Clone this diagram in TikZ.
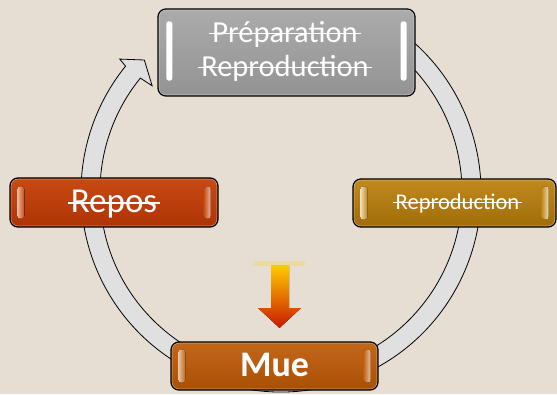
\documentclass[tikz,border=0pt]{standalone}
\usepackage{fontspec}
\setmainfont{Carlito}
\definecolor{bgc}{HTML}{E6DED2}
\definecolor{ringc}{HTML}{E0E0E0}
\definecolor{grayA}{HTML}{ABABAB}
\definecolor{grayB}{HTML}{939393}
\definecolor{goldA}{HTML}{C08A1E}
\definecolor{goldB}{HTML}{A06C08}
\definecolor{redA}{HTML}{C84A14}
\definecolor{redB}{HTML}{AE3404}
\definecolor{mueA}{HTML}{C2661A}
\definecolor{mueB}{HTML}{AA5004}
\definecolor{arrY}{HTML}{FFCA00}
\definecolor{arrR}{HTML}{C81800}
\definecolor{barc}{HTML}{EEDA9C}
\begin{document}
\begin{tikzpicture}[x=1pt,y=1pt,
  box/.style={rounded corners=8pt, draw=black, line width=1.3pt, inner sep=0pt},
  gloss/.style={rounded corners=6.5pt, draw=white, line width=0.6pt, opacity=0.45},
  txt/.style={inner sep=0pt, text=white, anchor=base},
  strikeline/.style={draw=white, line width=1.4pt},
  ringstyle/.style={fill=ringc, draw=black, line width=0.8pt, line join=miter}]
\useasboundingbox (0,0) rectangle (557,394);
\fill[bgc] (0,0) rectangle (557,394);

% ring arrow
\draw[ringstyle, shift={(281,202)}] (64:200) arc[start angle=64, end angle=-219, radius=200]
  -- (-219.5:209) -- (-224:190) -- (-219.5:167) -- (-219:181)
  arc[start angle=-219, end angle=64, radius=181] -- cycle;

% boxes
\node[box, top color=grayA, bottom color=grayB, minimum width=257pt, minimum height=87pt] (prep) at (286.5,341.5) {};
\node[box, top color=goldA, bottom color=goldB, minimum width=203pt, minimum height=48pt] (repro) at (454.5,191) {};
\node[box, top color=redA, bottom color=redB, minimum width=208pt, minimum height=49pt] (repos) at (114,191.5) {};
\node[box, top color=mueA, bottom color=mueB, minimum width=207pt, minimum height=48pt] (mue) at (274.5,28) {};

\foreach \b in {prep,repro,repos,mue}{
  \draw[gloss] ([shift={(1.8pt,-1.8pt)}]\b.north west) rectangle ([shift={(-1.8pt,1.8pt)}]\b.south east);
}

% highlight bars
\fill[white, rounded corners=2.5pt] ([shift={(9pt,-13pt)}]prep.north west) rectangle ([shift={(15pt,16pt)}]prep.south west);
\fill[white, rounded corners=2.5pt] ([shift={(-9pt,-13pt)}]prep.north east) rectangle ([shift={(-15pt,16pt)}]prep.south east);
\fill[left color=goldA!30!white, right color=goldA, rounded corners=3pt] ([shift={(8pt,-8pt)}]repro.north west) rectangle ([shift={(15pt,8pt)}]repro.south west);
\fill[right color=goldA!30!white, left color=goldA, rounded corners=3pt] ([shift={(-8pt,-8pt)}]repro.north east) rectangle ([shift={(-15pt,8pt)}]repro.south east);
\fill[left color=redA!40!white, right color=redA, rounded corners=3pt] ([shift={(8pt,-9pt)}]repos.north west) rectangle ([shift={(15pt,9pt)}]repos.south west);
\fill[right color=redA!40!white, left color=redA, rounded corners=3pt] ([shift={(-8pt,-9pt)}]repos.north east) rectangle ([shift={(-15pt,9pt)}]repos.south east);
\fill[left color=mueA!40!white, right color=mueA, rounded corners=3pt] ([shift={(8pt,-8pt)}]mue.north west) rectangle ([shift={(15pt,8pt)}]mue.south west);
\fill[right color=mueA!40!white, left color=mueA, rounded corners=3pt] ([shift={(-8pt,-8pt)}]mue.north east) rectangle ([shift={(-15pt,8pt)}]mue.south east);

% texts
\node[txt, font=\fontsize{30.5}{36}\selectfont] (t1) at (285,351.3) {Préparation};
\node[txt, font=\fontsize{30.5}{36}\selectfont] (t2) at (285,317.3) {Reproduction};
\node[txt, font=\fontsize{22.5}{27}\selectfont] (t3) at (457.5,184.7) {Reproduction};
\node[txt, font=\fontsize{35}{42}\selectfont] (t4) at (114,181.3) {Repos};
\node[txt, font=\fontsize{36}{43}\selectfont\bfseries] (t5) at (274.5,18) {Mue};

\draw[strikeline] ([shift={(-3pt,9.2pt)}]t1.base west) -- ([shift={(3pt,9.2pt)}]t1.base east);
\draw[strikeline] ([shift={(-3pt,9.2pt)}]t2.base west) -- ([shift={(3pt,9.2pt)}]t2.base east);
\draw[strikeline, line width=1.1pt] ([shift={(-3pt,6.5pt)}]t3.base west) -- ([shift={(3pt,6.5pt)}]t3.base east);
\draw[strikeline] ([shift={(-3pt,9.8pt)}]t4.base west) -- ([shift={(3pt,9.8pt)}]t4.base east);

% central gradient arrow
\fill[barc, opacity=0.85] (253,128) rectangle (305,133);
\fill[top color=arrY, bottom color=arrR] (271,128) -- (289,128) -- (289,86) -- (301,86) -- (279.5,66) -- (258,86) -- (271,86) -- cycle;
\end{tikzpicture}
\end{document}
